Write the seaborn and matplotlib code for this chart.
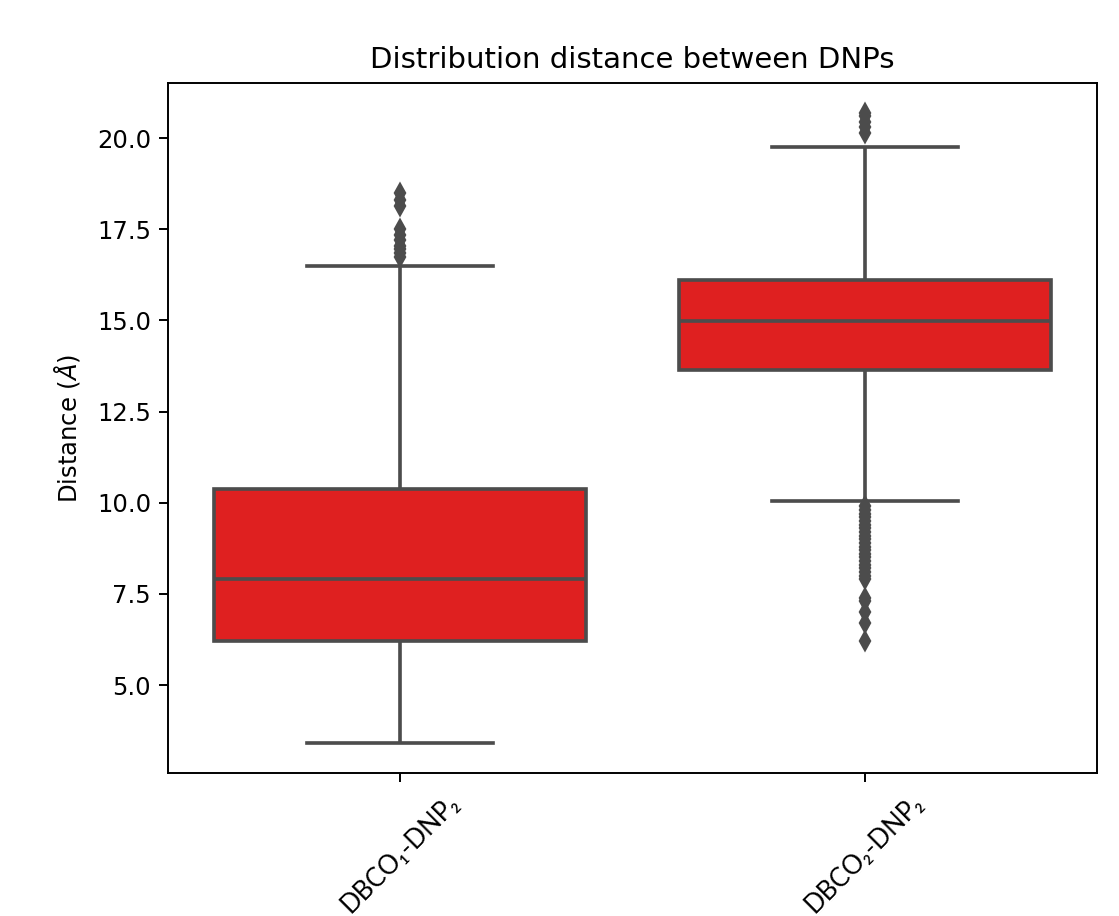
import pandas as pd
import matplotlib
matplotlib.use("Agg")
import matplotlib.pyplot as plt
import seaborn as sns

# summary values (Angstrom)
pairs = ["DBCO₁-DNP₂", "DBCO₂-DNP₂"]
whisker_low = [3.40, 10.05]
q1 = [6.22, 13.65]
median = [7.92, 14.98]
q3 = [10.38, 16.12]
whisker_high = [16.48, 19.75]
outliers_low = [
    [],
    [9.90, 9.80, 9.70, 9.60, 9.50, 9.40, 9.30, 9.20, 9.10, 9.00,
     8.90, 8.80, 8.70, 8.60, 8.50, 8.40, 8.30, 8.20, 8.10, 8.00,
     7.90, 7.40, 7.30, 7.00, 6.70, 6.20],
]
outliers_high = [
    [16.75, 16.85, 16.95, 17.05, 17.20, 17.35, 17.50, 18.15, 18.30, 18.50],
    [20.15, 20.30, 20.45, 20.60, 20.70],
]

# long table whose quartiles land on the values above
REP = 400
rows = []
for i, p in enumerate(pairs):
    vals = (outliers_low[i] + [whisker_low[i]] + [q1[i]] * REP + [median[i]] * REP
            + [q3[i]] * REP + [whisker_high[i]] + outliers_high[i])
    rows += [(p, v) for v in vals]
df = pd.DataFrame(rows, columns=["pair", "distance"])

dpi = 175
fig, ax = plt.subplots(figsize=(1119 / dpi, 916 / dpi), dpi=dpi)
fig.subplots_adjust(left=168 / 1119, right=1097 / 1119, top=1 - 83 / 916, bottom=1 - 773 / 916)

gray = "#4c4c4c"
sns.boxplot(data=df, x="pair", y="distance", color="red", saturation=0.75,
            linecolor=gray, linewidth=1.5, width=0.8, ax=ax,
            flierprops=dict(marker="d", markerfacecolor=gray, markeredgecolor=gray, markersize=5))

ax.set_title("Distribution distance between DNPs")
ax.set_xlabel("")
ax.set_ylabel(r"Distance ($\AA$)", labelpad=6)
ax.set_yticks([5.0, 7.5, 10.0, 12.5, 15.0, 17.5, 20.0])
ax.set_ylim(2.59, 21.51)
ax.set_xlim(-0.5, 1.5)
plt.setp(ax.get_xticklabels(), rotation=45, family=["Lato", "DejaVu Sans"], fontsize=10.6)

fig.savefig("out.png", dpi=dpi)
